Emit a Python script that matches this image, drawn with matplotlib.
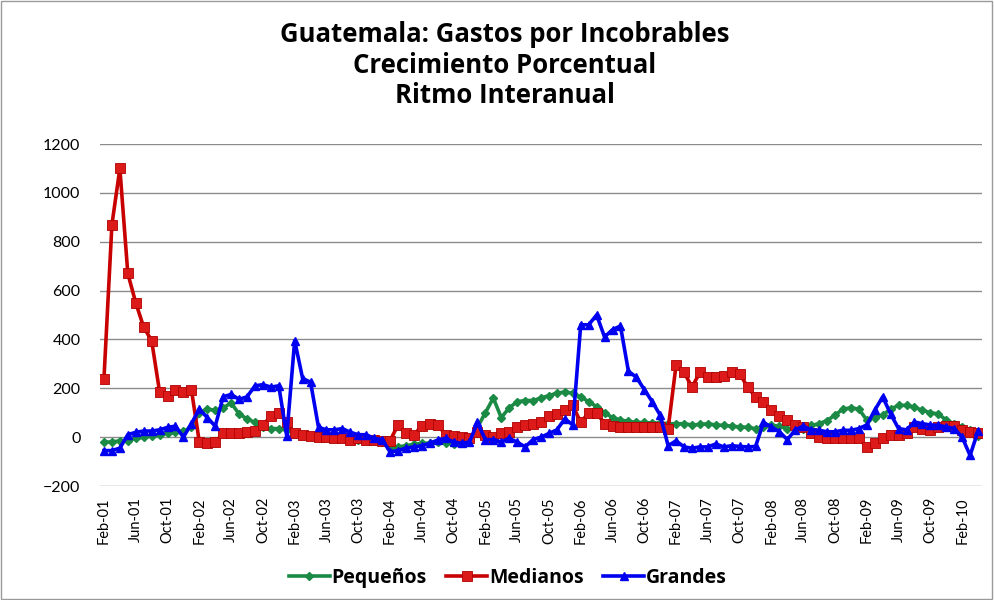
import matplotlib
matplotlib.use("Agg")
import matplotlib.pyplot as plt
from matplotlib.patches import Rectangle

# monthly series, Feb-01 .. Apr-10 (111 months)
pequenos = [
    -20, -20, -15, -15, -5, 0, 5, 10, 15, 20, 25, 40, 100, 115, 110, 120,
    140, 95, 75, 60, 40, 35, 35, 30, 15, 10, 5, 5, 0, 0, -5, -5,
    -10, -10, -15, -20, -45, -40, -35, -30, -25, -25, -20, -25, -30, -25, -15, 40,
    100, 160, 80, 120, 145, 150, 150, 160, 170, 180, 185, 180, 165, 145, 125, 100,
    80, 70, 65, 60, 60, 58, 58, 55, 55, 55, 50, 52, 55, 50, 48, 45,
    42, 40, 35, 40, 48, 45, 35, 32, 35, 48, 55, 68, 90, 115, 120, 115,
    70, 80, 90, 115, 130, 130, 122, 110, 100, 95, 70, 55, 42, 28, 5,
]
medianos = [
    240, 870, 1100, 670, 550, 450, 395, 185, 170, 195, 185, 195, -20, -25, -20, 15,
    15, 15, 20, 25, 50, 85, 100, 60, 15, 10, 5, 0, 0, -5, -5, -10,
    -5, -10, -10, -15, -15, 50, 15, 10, 45, 55, 50, 10, 5, 0, -5, 20,
    10, 0, 15, 20, 40, 50, 55, 60, 85, 95, 110, 130, 60, 100, 100, 55,
    45, 40, 40, 40, 40, 40, 40, 35, 295, 265, 205, 265, 245, 245, 250, 265,
    260, 205, 165, 145, 110, 85, 70, 50, 40, 15, 0, -5, -5, -5, -5, -5,
    -40, -25, -5, 10, 10, 15, 40, 35, 30, 40, 45, 45, 30, 20, 15,
]
grandes = [
    -55, -55, -45, 10, 20, 25, 25, 30, 40, 45, 0, 55, 115, 80, 45, 165,
    175, 155, 165, 210, 215, 205, 210, 5, 395, 240, 225, 40, 30, 30, 35, 20,
    10, 10, -5, -10, -60, -55, -45, -40, -35, -25, -12, -5, -20, -25, -20, 60,
    -10, -10, -20, -5, -20, -40, -10, 0, 15, 30, 75, 50, 460, 460, 500, 410,
    440, 455, 270, 245, 195, 145, 90, -35, -15, -40, -45, -40, -40, -28, -40, -35,
    -38, -40, -38, 60, 42, 22, -10, 30, 45, 30, 28, 22, 22, 28, 28, 35,
    50, 110, 165, 95, 35, 30, 62, 55, 50, 48, 42, 35, 0, -75, 25,
]

tick_labels = [
    "Feb-01", "Jun-01", "Oct-01", "Feb-02", "Jun-02", "Oct-02", "Feb-03",
    "Jun-03", "Oct-03", "Feb-04", "Jun-04", "Oct-04", "Feb-05", "Jun-05",
    "Oct-05", "Feb-06", "Jun-06", "Oct-06", "Feb-07", "Jun-07", "Oct-07",
    "Feb-08", "Jun-08", "Oct-08", "Feb-09", "Jun-09", "Oct-09", "Feb-10",
]

plt.rcParams["font.family"] = ["Lato", "DejaVu Sans"]
BOLD_FONT = ["Open Sans", "DejaVu Sans"]

fig = plt.figure(figsize=(9.94, 6.0), dpi=100)
ax = fig.add_axes([100 / 994, 1 - 486 / 600, 882 / 994, 342 / 600])

x = list(range(len(medianos)))

ax.plot(x, pequenos, color="#1A8A45", lw=2.6, marker="D", ms=4,
        mfc="#1A8A45", mec="#1A8A45", label="Pequeños", zorder=3)
ax.plot(x, medianos, color="#C80000", lw=2.6, marker="s", ms=7,
        mfc="#DD1A1A", mec="#B00000", mew=0.6, label="Medianos", zorder=4)
ax.plot(x, grandes, color="#0000F0", lw=2.6, marker="^", ms=5.5,
        mfc="#0000F0", mec="#0000F0", label="Grandes", zorder=5)

ax.set_xlim(-0.5, len(medianos) - 0.5)
ax.set_ylim(-200, 1200)
ax.set_yticks(range(-200, 1201, 200))
ax.set_xticks(range(0, len(medianos), 4))
ax.set_xticklabels(tick_labels, rotation=90)
ax.tick_params(axis="both", length=0, colors="#000000")
ax.tick_params(axis="x", labelsize=10.5, pad=8)
ax.tick_params(axis="y", labelsize=11.5, pad=14)

ax.grid(axis="y", color="#8C8C8C", lw=1.0)
ax.set_axisbelow(True)
for s in ax.spines.values():
    s.set_visible(False)

fig.text(0.508, 0.965, "Guatemala: Gastos por Incobrables\nCrecimiento Porcentual\nRitmo Interanual",
         ha="center", va="top", fontsize=18.5, fontweight="bold", linespacing=1.17,
         family=BOLD_FONT)

leg = fig.legend(loc="center", bbox_to_anchor=(0.511, 0.037), ncol=3, frameon=False,
                 prop={"family": BOLD_FONT, "weight": "bold", "size": 14},
                 handlelength=2.1, columnspacing=1.0, handletextpad=0.1)

# chart area border
fig.patches.append(Rectangle((0.001, 0.001), 0.997, 0.997, transform=fig.transFigure,
                             fill=False, edgecolor="#9A9A9A", lw=1.0))

fig.savefig("out.png", dpi=100)
plt.close(fig)
